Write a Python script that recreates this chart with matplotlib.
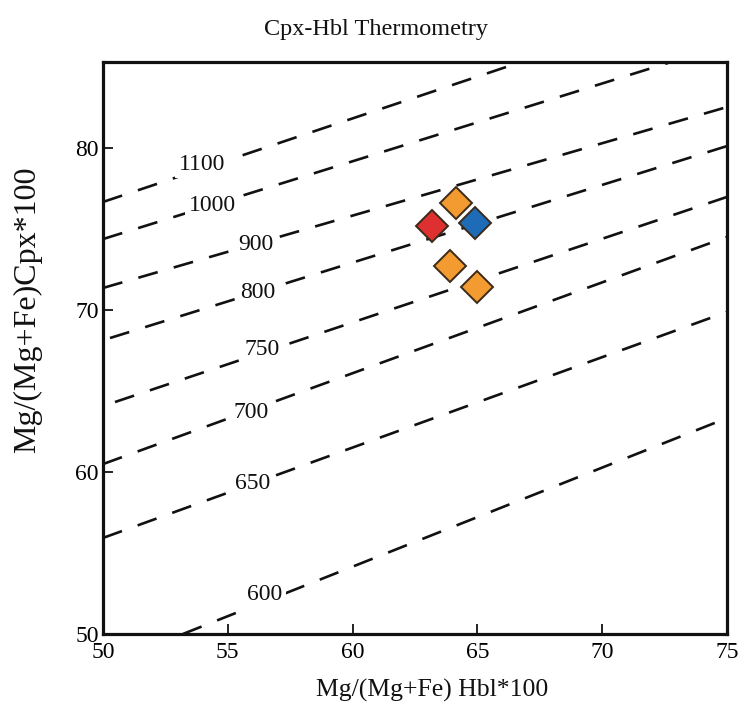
import matplotlib
matplotlib.use("Agg")
import matplotlib.pyplot as plt

plt.rcParams['font.family'] = ['Liberation Serif', 'DejaVu Serif']
plt.rcParams['lines.scale_dashes'] = False

# Isotherms (temperature labels and end points)
iso_T = ["1100", "1000", "900", "800", "750", "700", "650", "600"]
iso_x0 = [50.0, 50.0, 50.0, 50.28, 50.48, 50.0, 50.0, 53.2]
iso_y0 = [76.67, 74.38, 71.36, 68.27, 64.32, 60.49, 55.93, 50.0]
iso_x1 = [66.75, 72.76, 75.0, 75.0, 75.0, 75.0, 75.0, 75.0]
iso_y1 = [85.31, 85.31, 82.53, 80.12, 76.98, 74.51, 69.88, 63.33]
lab_x = [53.97, 54.37, 56.13, 56.21, 56.37, 55.93, 56.01, 56.49]
lab_y = [79.0, 76.48, 74.07, 71.11, 67.59, 63.70, 59.26, 52.41]

# Samples
hbl_mg = [64.14, 64.90, 63.18, 63.90, 64.98]
cpx_mg = [76.60, 75.37, 75.19, 72.72, 71.42]
sample_colors = ["#F39A30", "#1E6BB8", "#DE3030", "#F39A30", "#F39A30"]

x_ticks = [50, 55, 60, 65, 70, 75]
y_ticks = [50, 60, 70, 80]

fig = plt.figure(figsize=(7.38, 7.15), dpi=100)
ax = fig.add_axes([103/738, (715-634)/715, 624/738, 572/715])

for i in range(len(iso_T)):
    ax.plot([iso_x0[i], iso_x1[i]], [iso_y0[i], iso_y1[i]], color="#111111",
            lw=1.9, dashes=(14.5, 12), zorder=2, solid_capstyle='butt',
            dash_capstyle='butt')
    ax.text(lab_x[i], lab_y[i], iso_T[i], fontsize=17, ha='center', va='center',
            color="#111111", zorder=3,
            bbox=dict(boxstyle='square,pad=0.15', fc='white', ec='none'))

for x, y, c in zip(hbl_mg, cpx_mg, sample_colors):
    ax.plot([x], [y], marker='D', markersize=16, markerfacecolor=c,
            markeredgecolor="#3A2A1A", markeredgewidth=1.4, linestyle='none',
            zorder=5)

ax.set_xlim(50, 75)
ax.set_ylim(50, 85.31)
ax.set_xticks(x_ticks)
ax.set_yticks(y_ticks)
ax.tick_params(direction='in', length=7, width=1.3, labelsize=17, color="#111111")
ax.tick_params(axis='x', pad=6)
ax.tick_params(axis='y', pad=3)
for s in ax.spines.values():
    s.set_linewidth(2.3)
    s.set_color("#111111")

fig.text(376/738, 1 - 30/715, "Cpx-Hbl Thermometry", fontsize=17.5,
         ha='center', va='center', color="#111111")
fig.text(432/738, 1 - 690/715, "Mg/(Mg+Fe) Hbl*100", fontsize=18.5,
         ha='center', va='center', color="#111111")
fig.text(28/738, 1 - 310/715, "Mg/(Mg+Fe)Cpx*100", fontsize=23,
         ha='center', va='center', rotation=90, color="#111111")

fig.savefig("out.png", dpi=100)
